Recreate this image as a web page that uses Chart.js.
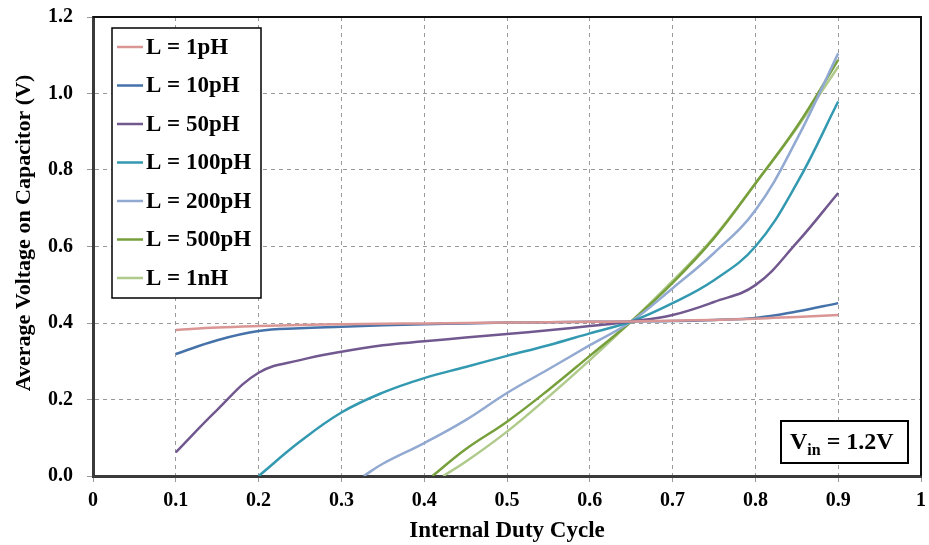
<!DOCTYPE html>
<html>
<head>
<meta charset="utf-8">
<script src="https://cdn.jsdelivr.net/npm/chart.js@4.4.1/dist/chart.umd.min.js"></script>
<style>
  body { margin: 0; background: #fff; }
  #wrap { width: 929px; height: 545px; }
</style>
</head>
<body>
<div id="wrap"><canvas id="myChart"></canvas></div>
<script>
// duty cycle sample points
const dutyCommon = [0.1, 0.15, 0.2, 0.25, 0.3, 0.35, 0.4, 0.45, 0.5, 0.55, 0.6, 0.65, 0.7, 0.75, 0.8, 0.85, 0.9];
const duty100p = [0.2, 0.25, 0.3, 0.35, 0.4, 0.45, 0.5, 0.55, 0.6, 0.65, 0.7, 0.75, 0.8, 0.85, 0.9];
const duty200p = [0.327, 0.35, 0.4, 0.45, 0.5, 0.55, 0.6, 0.65, 0.7, 0.75, 0.8, 0.85, 0.9];
const duty500p = [0.41, 0.45, 0.5, 0.55, 0.6, 0.65, 0.7, 0.75, 0.8, 0.85, 0.9];
const duty1n = [0.423, 0.45, 0.5, 0.55, 0.6, 0.65, 0.7, 0.75, 0.8, 0.85, 0.9];

// average capacitor voltage (V)
const v1p = [0.382, 0.388, 0.392, 0.395, 0.397, 0.398, 0.399, 0.400, 0.401, 0.402, 0.403, 0.404, 0.406, 0.408, 0.411, 0.416, 0.421];
const v10p = [0.319, 0.355, 0.379, 0.386, 0.390, 0.394, 0.397, 0.399, 0.401, 0.402, 0.403, 0.404, 0.405, 0.408, 0.413, 0.430, 0.452];
const v50p = [0.062, 0.173, 0.270, 0.303, 0.325, 0.342, 0.352, 0.362, 0.371, 0.381, 0.392, 0.404, 0.421, 0.455, 0.499, 0.610, 0.740];
const v100p = [0.0, 0.09, 0.166, 0.218, 0.256, 0.285, 0.314, 0.342, 0.373, 0.404, 0.452, 0.512, 0.600, 0.765, 0.979];
const v200p = [0.0, 0.032, 0.086, 0.146, 0.217, 0.279, 0.342, 0.404, 0.491, 0.583, 0.695, 0.880, 1.105];
const v500p = [0.0, 0.070, 0.142, 0.225, 0.314, 0.404, 0.505, 0.622, 0.765, 0.913, 1.088];
const v1n = [0.0, 0.037, 0.116, 0.207, 0.303, 0.404, 0.510, 0.625, 0.765, 0.910, 1.070];

const seriesNames = ["L = 1pH", "L = 10pH", "L = 50pH", "L = 100pH", "L = 200pH", "L = 500pH", "L = 1nH"];
const seriesColors = ["#D99694", "#4672AA", "#71588F", "#3399B0", "#92A9D2", "#77A03C", "#AFCA8A"];
const xTicks = [0, 0.1, 0.2, 0.3, 0.4, 0.5, 0.6, 0.7, 0.8, 0.9, 1];
const yTicks = [0, 0.2, 0.4, 0.6, 0.8, 1.0, 1.2];

const FONT = "'Liberation Serif', 'Times New Roman', serif";

function pts(xs, ys) {
    return xs.map((x, i) => ({x: x, y: ys[i]}));
}

const seriesData = [
    pts(dutyCommon, v1p),
    pts(dutyCommon, v10p),
    pts(dutyCommon, v50p),
    pts(duty100p, v100p),
    pts(duty200p, v200p),
    pts(duty500p, v500p),
    pts(duty1n, v1n)
];

// legend box, frame, axis titles and the Vin label
const extras = {
    id: 'extras',
    afterDraw(chart) {
        const ctx = chart.ctx;
        const a = chart.chartArea;
        ctx.save();

        // top / right frame
        ctx.strokeStyle = '#111';
        ctx.lineWidth = 2;
        ctx.beginPath();
        ctx.moveTo(a.left, a.top);
        ctx.lineTo(a.right, a.top);
        ctx.lineTo(a.right, a.bottom);
        ctx.stroke();

        // legend
        ctx.fillStyle = '#fff';
        ctx.fillRect(112, 28, 149, 270);
        ctx.strokeStyle = '#000';
        ctx.lineWidth = 1.5;
        ctx.strokeRect(112, 28, 149, 270);
        ctx.font = 'bold 23px ' + FONT;
        ctx.textBaseline = 'middle';
        seriesNames.forEach((name, i) => {
            const y = 47 + i * 38.5;
            ctx.strokeStyle = seriesColors[i];
            ctx.lineWidth = 2.5;
            ctx.beginPath();
            ctx.moveTo(117, y);
            ctx.lineTo(143, y);
            ctx.stroke();
            ctx.fillStyle = '#000';
            ctx.fillText(name, 146, y + 1);
        });

        // Vin box
        ctx.fillStyle = '#fff';
        ctx.fillRect(781, 421, 127, 42);
        ctx.strokeStyle = '#000';
        ctx.lineWidth = 2;
        ctx.strokeRect(781, 421, 127, 42);
        ctx.fillStyle = '#000';
        ctx.textBaseline = 'alphabetic';
        ctx.font = 'bold 24px ' + FONT;
        let x = 790;
        ctx.fillText('V', x, 449);
        x += ctx.measureText('V').width;
        ctx.font = 'bold 16px ' + FONT;
        ctx.fillText('in', x, 455);
        x += ctx.measureText('in').width;
        ctx.font = 'bold 24px ' + FONT;
        ctx.fillText(' = 1.2V', x, 449);

        // axis titles
        ctx.textAlign = 'center';
        ctx.textBaseline = 'middle';
        ctx.font = 'bold 23px ' + FONT;
        ctx.fillText('Internal Duty Cycle', (a.left + a.right) / 2, 531);
        ctx.translate(24, 233);
        ctx.rotate(-Math.PI / 2);
        ctx.font = 'bold 22px ' + FONT;
        ctx.fillText('Average Voltage on Capacitor (V)', 0, 0);
        ctx.restore();
    }
};

new Chart(document.getElementById('myChart').getContext('2d'), {
    type: 'line',
    data: {
        datasets: seriesNames.map((name, i) => ({
            label: name,
            data: seriesData[i],
            borderColor: seriesColors[i],
            backgroundColor: seriesColors[i],
            borderWidth: 2.5,
            pointRadius: 0,
            fill: false,
            tension: 0.4
        }))
    },
    options: {
        responsive: true,
        maintainAspectRatio: false,
        animation: false,
        layout: {padding: {left: 0, top: 17, right: 8, bottom: 0}},
        plugins: {
            legend: {display: false},
            tooltip: {enabled: false}
        },
        scales: {
            x: {
                type: 'linear',
                min: 0,
                max: 1,
                afterFit: s => {
                    s.height = 69;
                    s.paddingLeft = 0;
                    s.paddingRight = 0;
                },
                afterBuildTicks: s => { s.ticks = xTicks.map(v => ({value: v})); },
                ticks: {
                    color: '#000',
                    padding: 7,
                    maxRotation: 0,
                    font: {family: FONT, size: 20, weight: 'bold'},
                    callback: v => (v === 0 || v === 1) ? String(v) : v.toFixed(1)
                },
                grid: {color: '#9a9a9a', lineWidth: 1, tickLength: 6},
                border: {display: true, color: '#3a3a3a', width: 3, dash: [4, 4]}
            },
            y: {
                min: 0,
                max: 1.2,
                afterFit: s => {
                    s.width = 93;
                    s.paddingTop = 0;
                    s.paddingBottom = 0;
                },
                afterBuildTicks: s => { s.ticks = yTicks.map(v => ({value: v})); },
                ticks: {
                    color: '#000',
                    padding: 14,
                    font: {family: FONT, size: 20, weight: 'bold'},
                    callback: v => v.toFixed(1)
                },
                grid: {color: '#9a9a9a', lineWidth: 1, tickLength: 6},
                border: {display: true, color: '#3a3a3a', width: 3, dash: [4, 4]}
            }
        }
    },
    plugins: [extras]
});
</script>
</body>
</html>
